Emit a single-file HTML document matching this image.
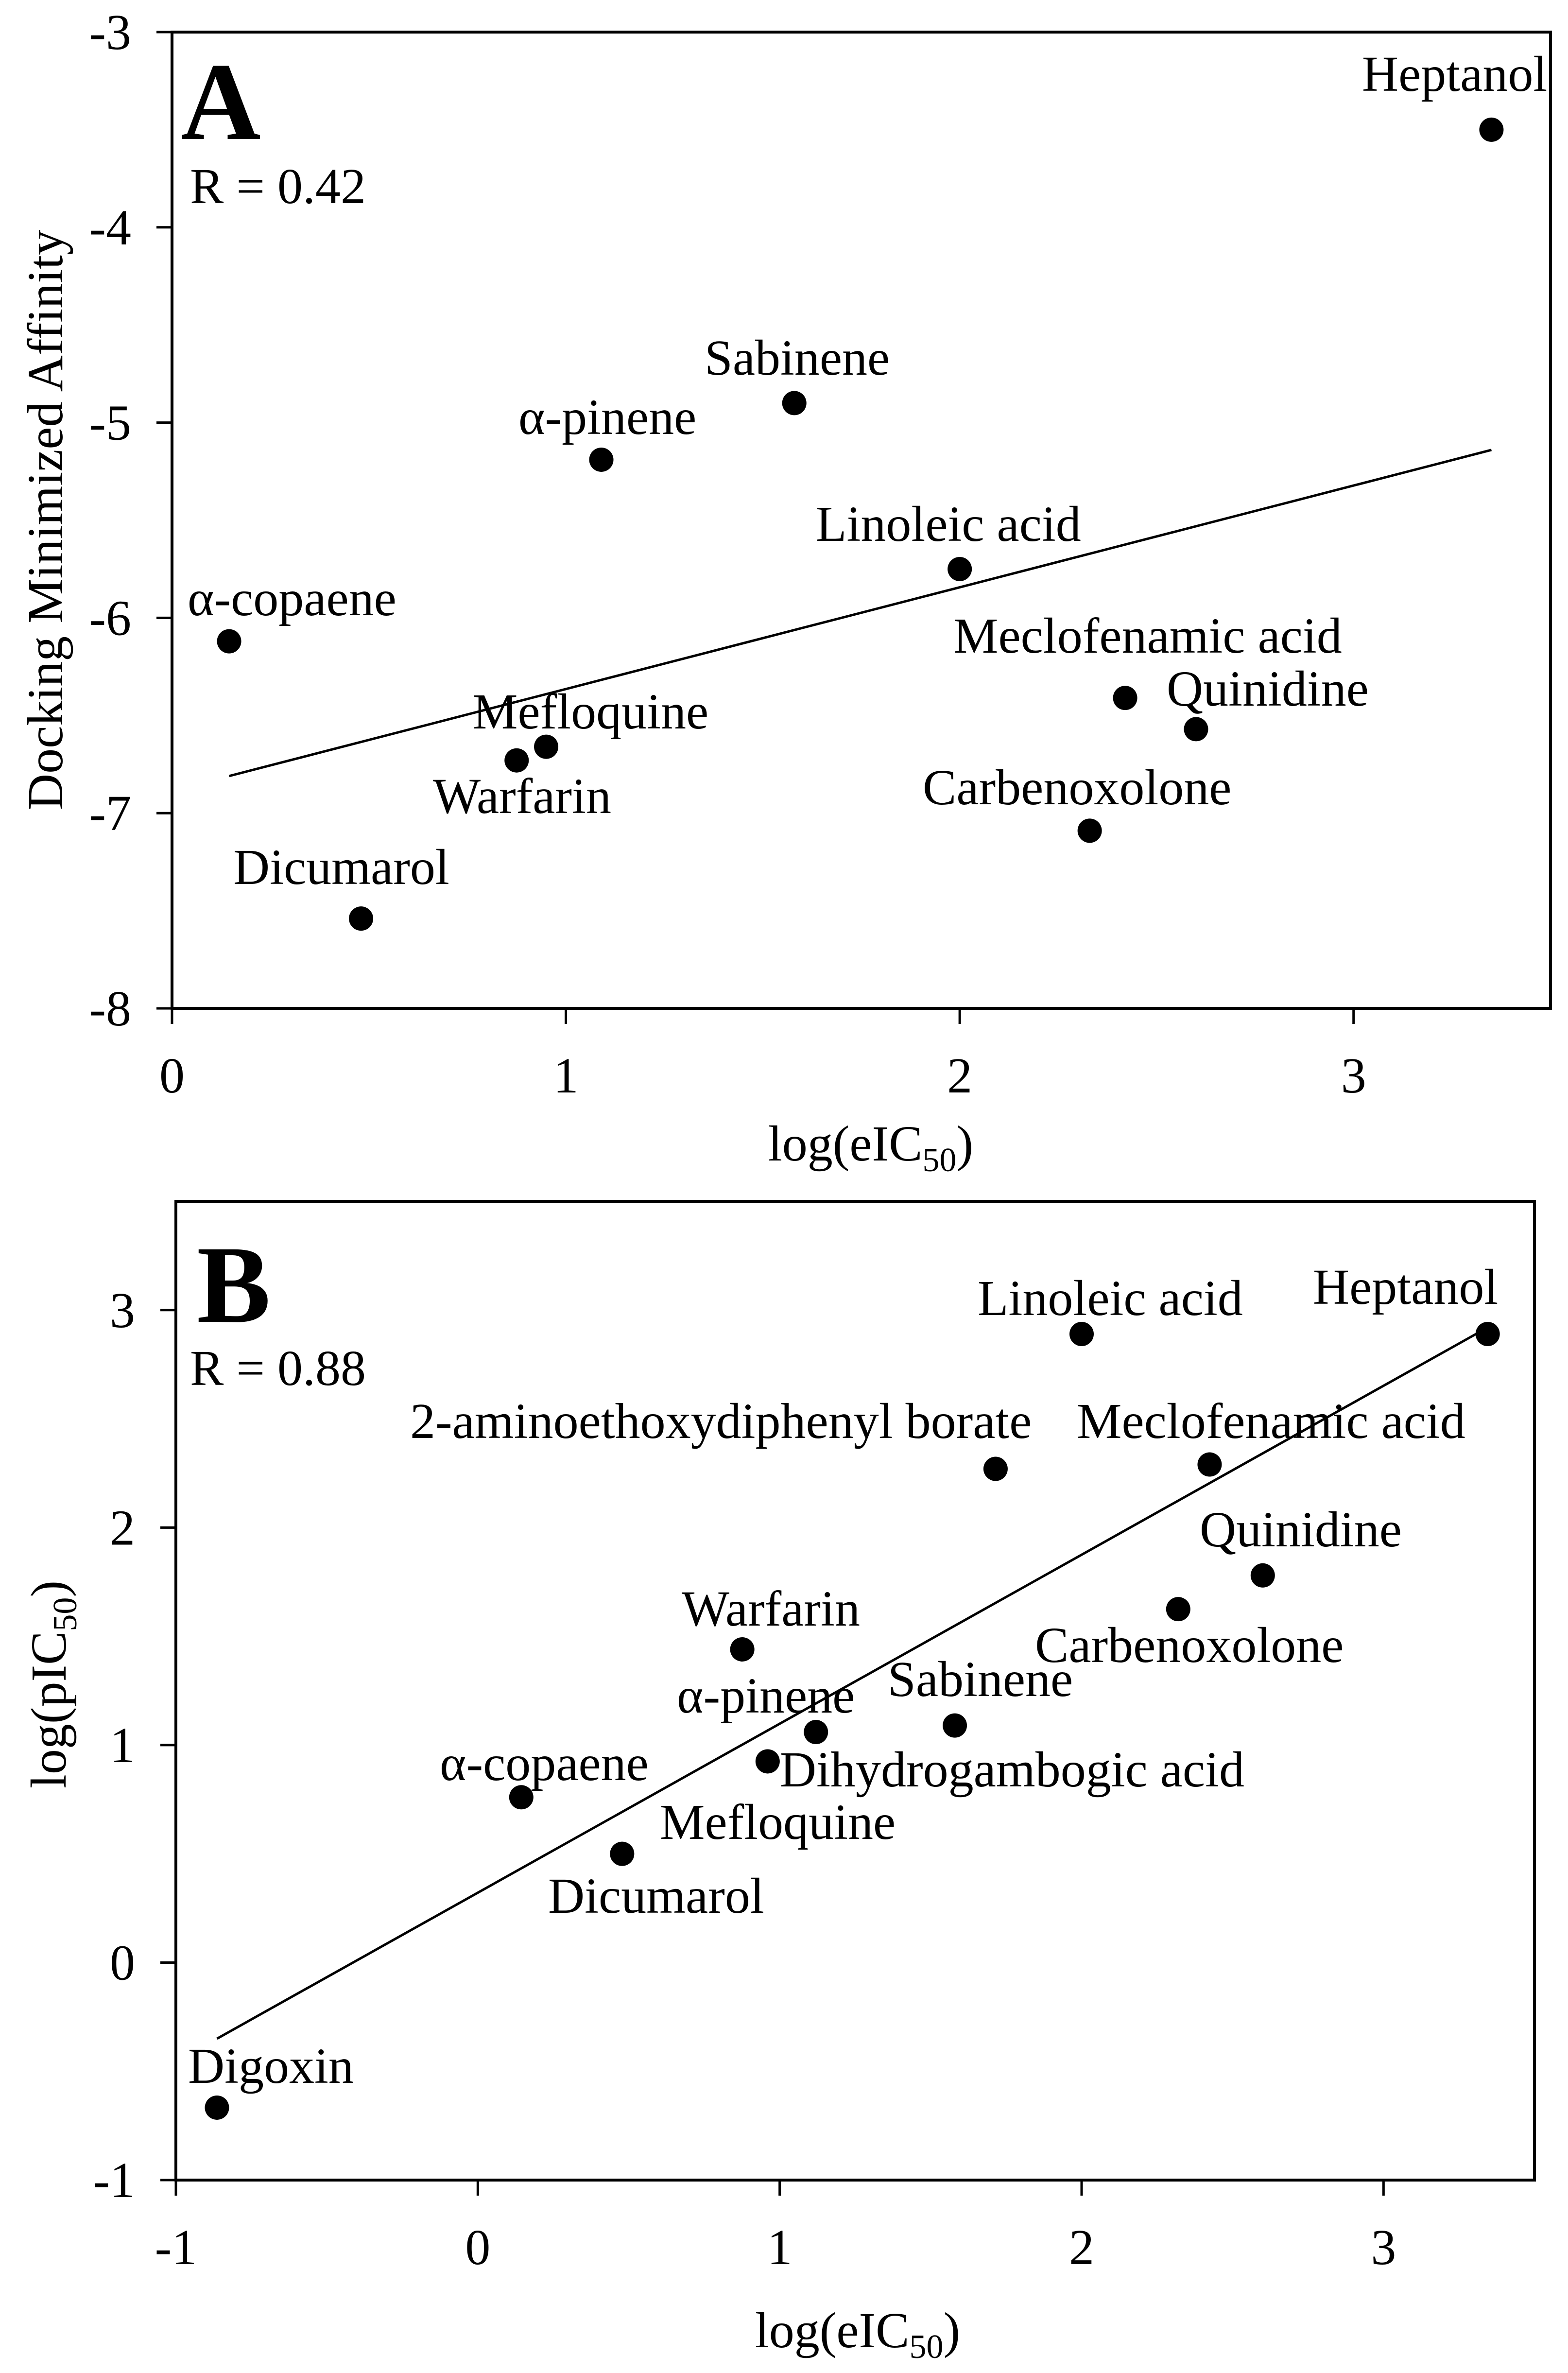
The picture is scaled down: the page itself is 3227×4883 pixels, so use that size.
<!DOCTYPE html>
<html><head><meta charset="utf-8">
<style>
html,body{margin:0;padding:0;background:#fff;}
svg{display:block;}
text{font-family:"Liberation Serif","Times New Roman",serif;fill:#000;}
</style></head>
<body>
<svg id="chart" width="3227" height="4883" viewBox="0 0 3227 4883" xmlns="http://www.w3.org/2000/svg"></svg>
<script>
// ---- Panel A data ----
const namesA = ["Heptanol","Sabinene","α-pinene","Linoleic acid","α-copaene","Meclofenamic acid","Quinidine","Mefloquine","Warfarin","Carbenoxolone","Dicumarol"];
const xA = [3.35,1.58,1.09,2.00,0.145,2.42,2.60,0.95,0.875,2.33,0.48];
const yA = [-3.50,-4.90,-5.19,-5.75,-6.12,-6.41,-6.57,-6.66,-6.73,-7.09,-7.54];
const fitXA = [0.145,3.35];
const fitYA = [-6.81,-5.14];
const xTicksA = [0,1,2,3];
const yTicksA = [-3,-4,-5,-6,-7,-8];
// ---- Panel B data ----
const namesB = ["Linoleic acid","Heptanol","2-aminoethoxydiphenyl borate","Meclofenamic acid","Quinidine","Carbenoxolone","Warfarin","α-pinene","Sabinene","Dihydrogambogic acid","α-copaene","Dicumarol","Digoxin"];
const xB = [2.00,3.345,1.715,2.424,2.60,2.32,0.876,1.12,1.58,0.96,0.144,0.478,-0.864];
const yB = [2.89,2.89,2.27,2.29,1.78,1.625,1.44,1.06,1.09,0.925,0.76,0.50,-0.667];
const extraLabelsB = ["Mefloquine"];
const fitXB = [-0.864,3.345];
const fitYB = [-0.35,2.92];
const xTicksB = [-1,0,1,2,3];
const yTicksB = [3,2,1,0,-1];

const NS = "http://www.w3.org/2000/svg";
const svg = document.getElementById("chart");
function mk(tag, attrs, parent){
  const e = document.createElementNS(NS, tag);
  for (const k in attrs) e.setAttribute(k, attrs[k]);
  (parent||svg).appendChild(e);
  return e;
}

const labPosA = [[2803,187],[1450,771],[1067,893],[1679,1113],[386,1266],[1962,1343],[2401,1452],[973,1499],[891,1673],[1899,1655],[480,1819]];
const labPosB = [[2012,2706],[2702,2683],[844,2959],[2216,2959],[2469,3182],[2130,3420],[1403,3345],[1393,3524],[1827,3490],[1605,3676],[905,3663],[1128,3936],[387,4286]];
const extraPosB = [[1358,3784]];

function panel(cfg){
  const g = mk("g",{});
  
  
  const sx = v => cfg.left + (v - cfg.xmin)/(cfg.xmax - cfg.xmin)*(cfg.right-cfg.left);
  const sy = v => cfg.bottom - (v - cfg.ymin)/(cfg.ymax - cfg.ymin)*(cfg.bottom-cfg.top);
  const frame = mk("rect",{x:cfg.left,y:cfg.top,width:cfg.right-cfg.left,height:cfg.bottom-cfg.top,fill:"none",stroke:"#000","stroke-width":6},g);
  
  
  cfg.xTicks.forEach(t=>{
    const X = sx(t);
    const tk = mk("line",{x1:X,x2:X,y1:cfg.bottom,y2:cfg.bottom+32,stroke:"#000","stroke-width":5},g);
    
    
    const tl = mk("text",{x:X,y:cfg.bottom+173,"font-size":104,"text-anchor":"middle"},g);
    tl.textContent = String(t);
    
    
  });
  cfg.yTicks.forEach(t=>{
    const Y = sy(t);
    const tk = mk("line",{x1:cfg.left-32,x2:cfg.left,y1:Y,y2:Y,stroke:"#000","stroke-width":5},g);
    
    
    const tl = mk("text",{x:cfg.left-84,y:Y+35,"font-size":104,"text-anchor":"end"},g);
    tl.textContent = String(t);
    
    
  });
  const fit = mk("line",{x1:sx(cfg.fitX[0]),y1:sy(cfg.fitY[0]),x2:sx(cfg.fitX[1]),y2:sy(cfg.fitY[1]),stroke:"#000","stroke-width":5},g);
  
  
  cfg.xs.forEach((v,i)=>{
    const c = mk("circle",{cx:sx(v),cy:sy(cfg.ys[i]),r:25,fill:"#000"},g);
    
    
    const t = mk("text",{x:cfg.labPos[i][0],y:cfg.labPos[i][1],"font-size":104},g);
    t.textContent = cfg.names[i];
    
    
  });
  (cfg.extra||[]).forEach((nm,i)=>{
    const t = mk("text",{x:cfg.extraPos[i][0],y:cfg.extraPos[i][1],"font-size":104},g);
    t.textContent = nm;
    
    
  });
  const L = mk("text",{x:cfg.letter[0],y:cfg.letter[1],"font-size":228,"font-weight":"bold"},g);
  L.textContent = cfg.letterText;
  
  
  const R = mk("text",{x:cfg.rpos[0],y:cfg.rpos[1],"font-size":104},g);
  R.textContent = cfg.rtext;
  
  
  const xt = mk("text",{x:cfg.xTitle[0],y:cfg.xTitle[1],"font-size":104,"text-anchor":"middle"},g);
  xt.innerHTML = 'log(eIC<tspan font-size="70" dy="22">50</tspan><tspan dy="-22">)</tspan>';
  
  
  const yt = mk("text",{x:0,y:0,"font-size":104,"text-anchor":"middle",transform:`translate(${cfg.yTitle[0]},${cfg.yTitle[1]}) rotate(-90)`},g);
  yt.innerHTML = cfg.yTitleHtml;
  
  
}

panel({id:"panel-a",left:354,right:3191,top:66,bottom:2075,xmin:0,xmax:3.5,ymin:-8,ymax:-3,
  xTicks:xTicksA,yTicks:yTicksA,xs:xA,ys:yA,names:namesA,labPos:labPosA,fitX:fitXA,fitY:fitYA,
  letter:[372,286],letterText:"A",rpos:[391,418],rtext:"R = 0.42",xTitle:[1792,2388],
  yTitle:[128,1070],yTitleHtml:"Docking Minimized Affinity"});
panel({id:"panel-b",left:362,right:3158,top:2472,bottom:4486,xmin:-1,xmax:3.5,ymin:-1,ymax:3.5,
  xTicks:xTicksB,yTicks:yTicksB,xs:xB,ys:yB,names:namesB,labPos:labPosB,fitX:fitXB,fitY:fitYB,
  extra:extraLabelsB,extraPos:extraPosB,
  letter:[405,2720],letterText:"B",rpos:[391,2850],rtext:"R = 0.88",xTitle:[1765,4830],
  yTitle:[135,3466],yTitleHtml:'log(pIC<tspan font-size="70" dy="22">50</tspan><tspan dy="-22">)</tspan>'});
</script>
</body></html>
